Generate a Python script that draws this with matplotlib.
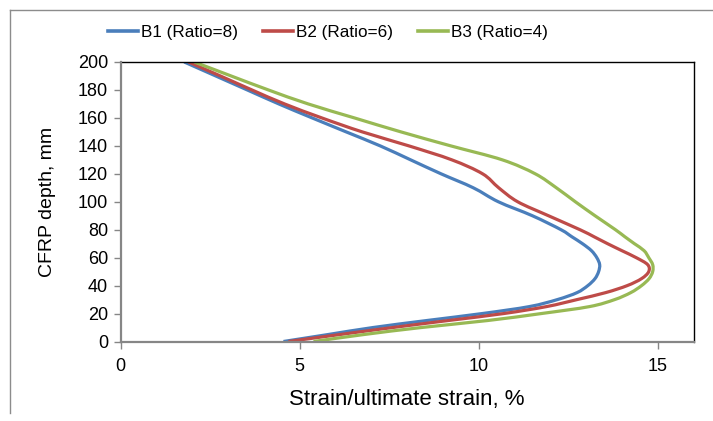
import matplotlib
matplotlib.use("Agg")
import matplotlib.pyplot as plt
from matplotlib.lines import Line2D
from matplotlib.path import Path
from matplotlib.patches import PathPatch

plt.rcParams['font.family'] = ['Liberation Sans', 'DejaVu Sans']

# CFRP depth (mm) at which strain ratios were taken
depth = [0, 5, 10, 15, 20, 25, 30, 35, 40, 45, 50, 55, 60, 65, 70, 75, 80,
         90, 100, 110, 120, 130, 140, 150, 160, 170, 180, 190, 200]

# Strain / ultimate strain (%) for each beam
b1 = [4.55, 5.8, 7.05, 8.55, 10.1, 11.42, 12.2, 12.75, 13.05, 13.25, 13.35, 13.38,
      13.3, 13.15, 12.9, 12.6, 12.3, 11.5, 10.55, 9.85, 8.95, 8.1, 7.25, 6.3, 5.35,
      4.42, 3.54, 2.66, 1.78]
b2 = [4.69, 6.13, 7.6, 9.15, 10.7, 11.9, 12.75, 13.55, 14.15, 14.55, 14.75, 14.72,
      14.4, 14.0, 13.6, 13.22, 12.83, 11.95, 11.09, 10.56, 10.11, 9.25, 8.05, 6.75,
      5.62, 4.58, 3.67, 2.79, 1.9]
b3 = [5.39, 6.8, 8.4, 10.25, 11.75, 13.1, 13.8, 14.25, 14.55, 14.76, 14.86, 14.86,
      14.75, 14.62, 14.35, 14.08, 13.82, 13.25, 12.7, 12.17, 11.58, 10.66, 9.22, 7.83,
      6.53, 5.24, 4.13, 3.09, 2.06]

series = [
    ("B1 (Ratio=8)", b1, "#4A7EBB"),
    ("B2 (Ratio=6)", b2, "#BE4B48"),
    ("B3 (Ratio=4)", b3, "#98B954"),
]

x_ticks = [0, 5, 10, 15]
y_ticks = list(range(0, 201, 20))


def smooth_path(xs, ys):
    """Cubic Bezier path through every point (Catmull-Rom style tangents)."""
    pts = list(zip(xs, ys))
    n = len(pts)
    verts = [pts[0]]
    codes = [Path.MOVETO]
    for i in range(n - 1):
        p0 = pts[i - 1] if i > 0 else pts[i]
        p1 = pts[i]
        p2 = pts[i + 1]
        p3 = pts[i + 2] if i + 2 < n else pts[i + 1]
        c1 = (p1[0] + (p2[0] - p0[0]) / 6.0, p1[1] + (p2[1] - p0[1]) / 6.0)
        c2 = (p2[0] - (p3[0] - p1[0]) / 6.0, p2[1] - (p3[1] - p1[1]) / 6.0)
        verts += [c1, c2, p2]
        codes += [Path.CURVE4] * 3
    return Path(verts, codes)


W, H = 713, 421
fig = plt.figure(figsize=(W / 100, H / 100), dpi=100)
fig.patch.set_facecolor("white")

# outer chart-area frame (top and left edges)
fig.add_artist(Line2D([10 / W, 10 / W], [1 - 10 / H, 1 - 413 / H],
                      transform=fig.transFigure, color="#8c8c8c", lw=1.0))
fig.add_artist(Line2D([10 / W, 1.0], [1 - 10 / H, 1 - 10 / H],
                      transform=fig.transFigure, color="#8c8c8c", lw=1.0))

ax = fig.add_axes([120.5 / W, (H - 341.5) / H, 573 / W, 279.5 / H])

handles = []
for label, vals, color in series:
    patch = PathPatch(smooth_path(vals, depth), facecolor="none", edgecolor=color,
                      lw=2.3, capstyle="butt", joinstyle="round",
                      transform=ax.transData, zorder=2)
    ax.add_patch(patch)
    handles.append(Line2D([], [], color=color, lw=2.6, label=label))

ax.set_xlim(0, 16)
ax.set_ylim(0, 200)
ax.set_xticks(x_ticks)
ax.set_yticks(y_ticks)

for side in ("top", "right"):
    ax.spines[side].set_color("black")
    ax.spines[side].set_linewidth(1.0)
for side in ("left", "bottom"):
    ax.spines[side].set_color("#868686")
    ax.spines[side].set_linewidth(1.6)
    ax.spines[side].set_zorder(3)

ax.tick_params(axis="both", direction="out", length=5, width=1.0,
               color="#868686", labelsize=13, labelcolor="black")
ax.tick_params(axis="x", pad=7)
ax.tick_params(axis="y", pad=4)

ax.set_xlabel("Strain/ultimate strain, %", fontsize=16, labelpad=10)
ax.set_ylabel("CFRP depth, mm", fontsize=14, labelpad=16)

fig.legend(handles=handles, loc="center", ncol=3, frameon=False,
           bbox_to_anchor=(328 / W, 1 - 32 / H), fontsize=12.3,
           handlelength=1.75, handletextpad=0.15, columnspacing=1.5)

fig.savefig("out.png", dpi=100)
